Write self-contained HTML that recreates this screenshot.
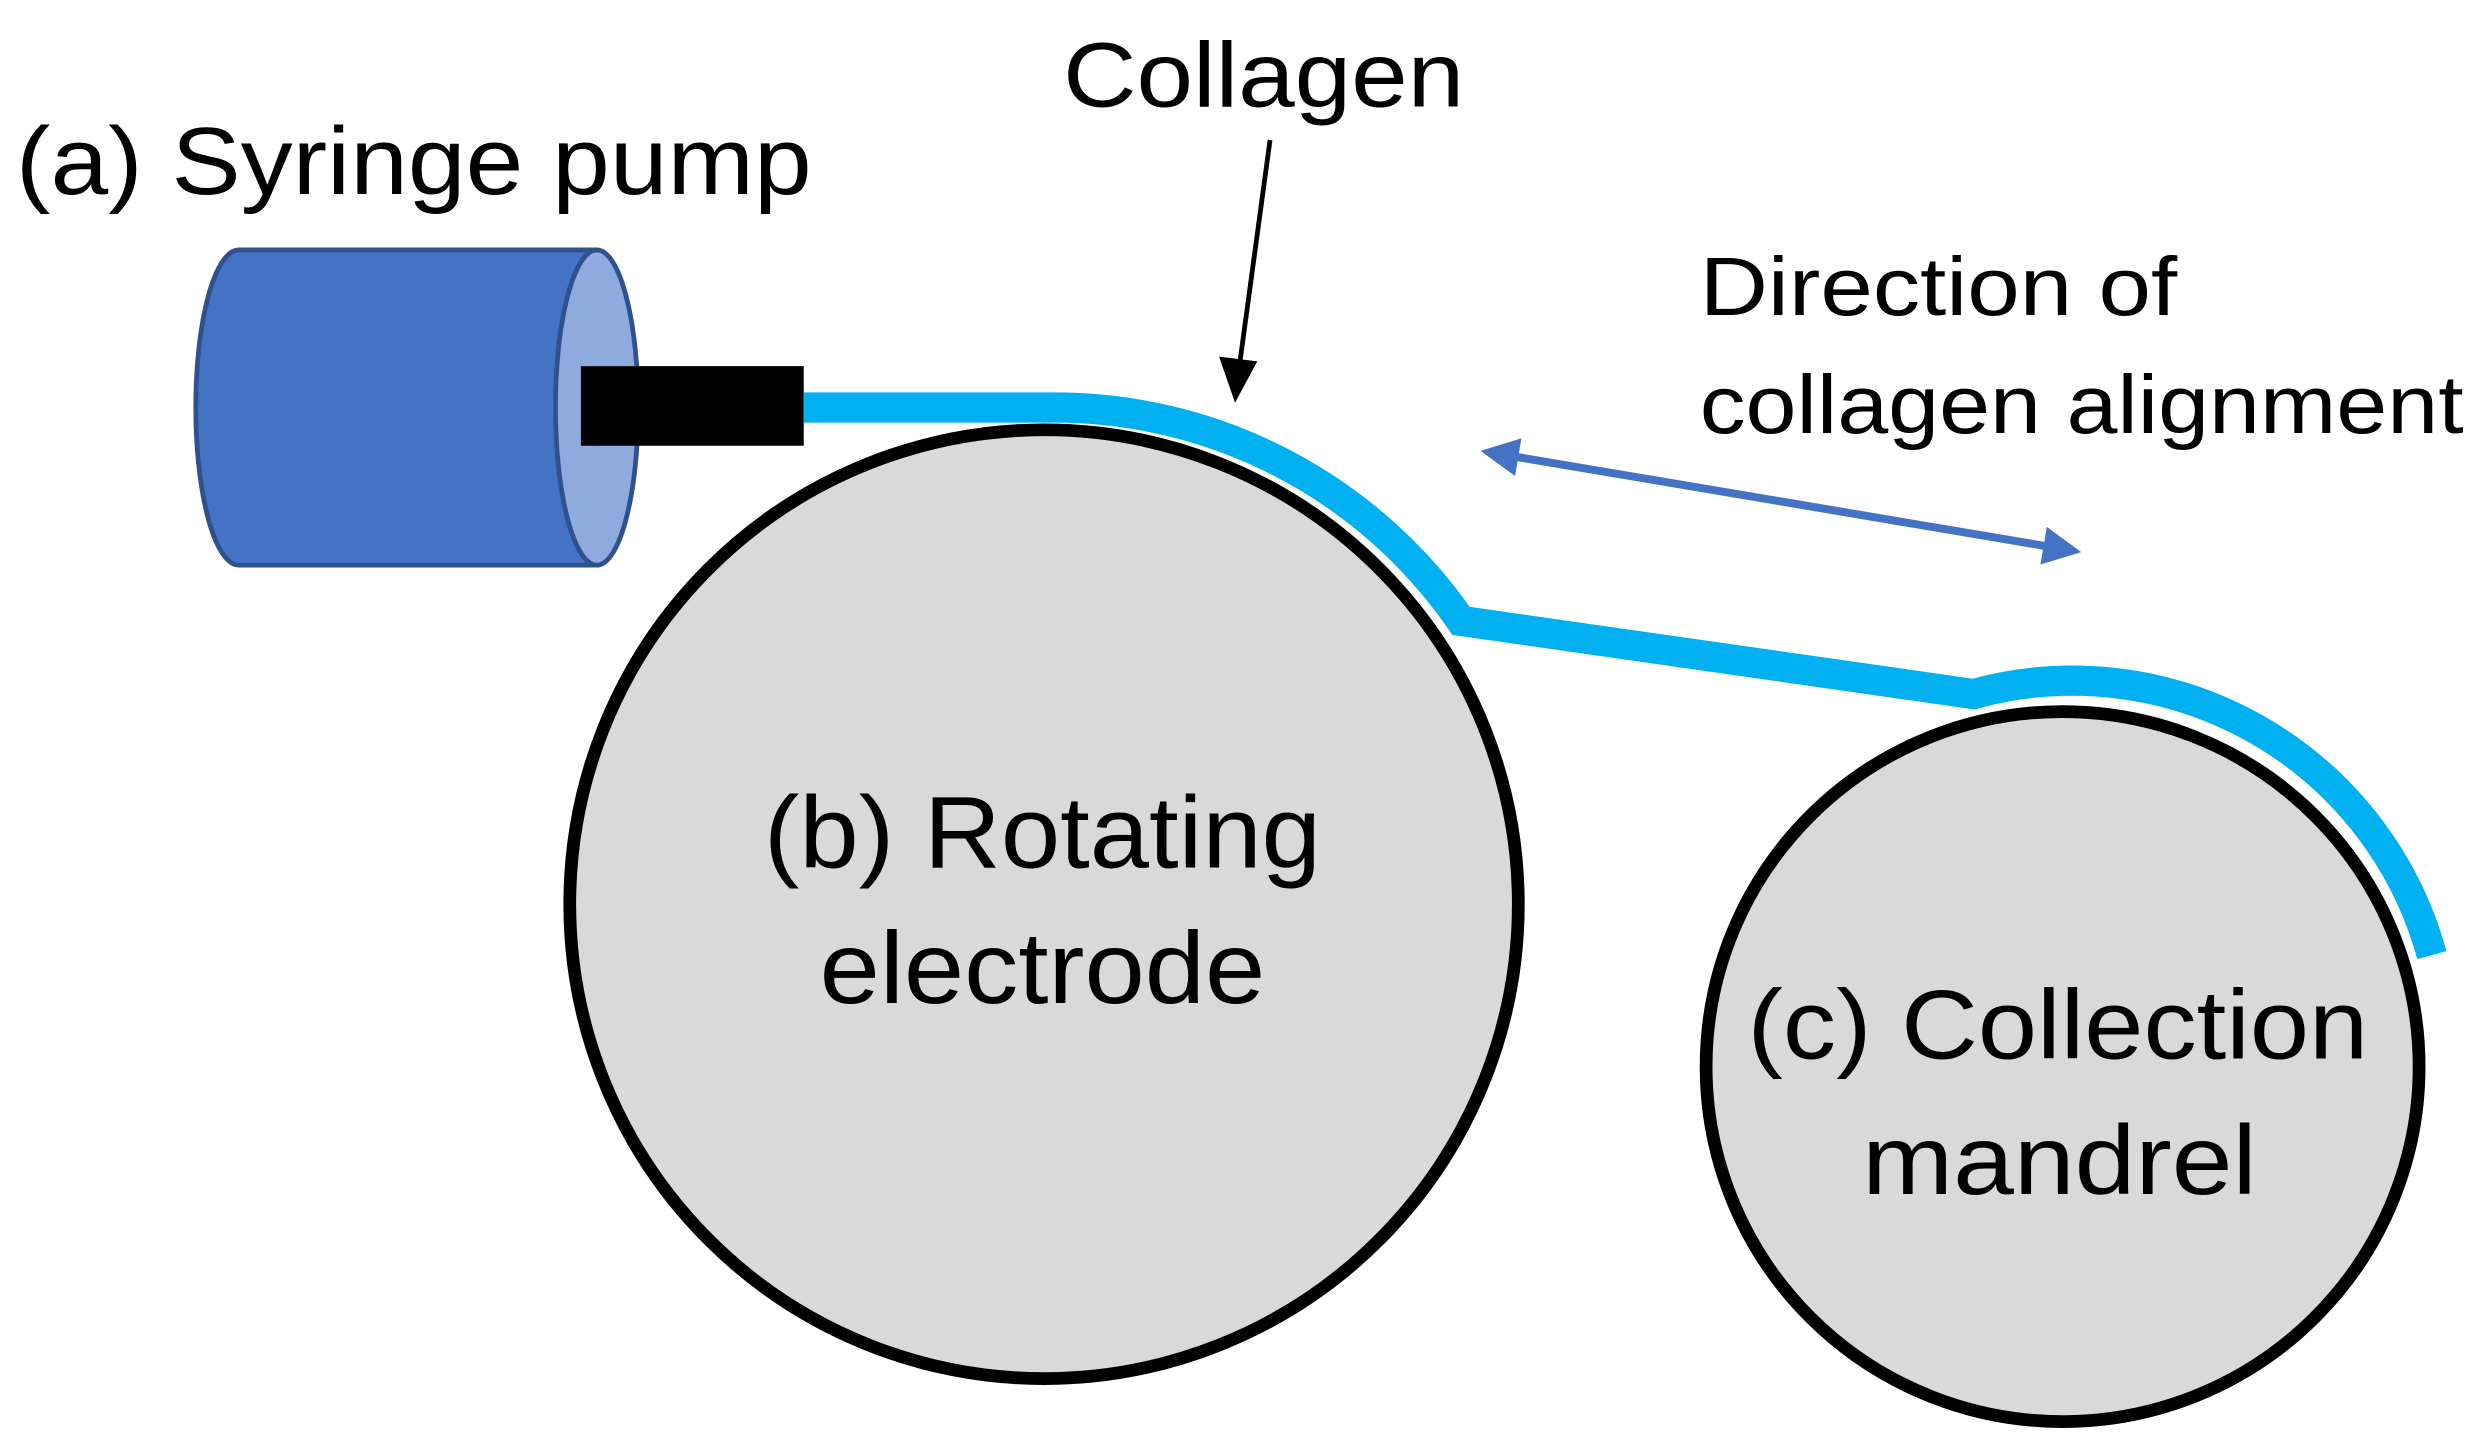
<!DOCTYPE html>
<html><head><style>html,body{margin:0;padding:0;background:#fff;}svg{display:block}</style></head>
<body>
<svg width="2478" height="1455" viewBox="0 0 1557 914" preserveAspectRatio="none" xmlns="http://www.w3.org/2000/svg">
<defs>
<marker id="ah" viewBox="0 0 10 10" refX="8" refY="5" markerWidth="30" markerHeight="24" markerUnits="userSpaceOnUse" orient="auto-start-reverse"><path d="M0,0 L10,5 L0,10 z" fill="#4472c4"/></marker>
</defs>
<g font-family="Liberation Sans, sans-serif" fill="#000">
<text x="10" y="122" font-size="60" textLength="500" lengthAdjust="spacingAndGlyphs">(a) Syringe pump</text>
<text x="668" y="67" font-size="58" textLength="252" lengthAdjust="spacingAndGlyphs">Collagen</text>
<text x="1068" y="198" font-size="52" textLength="300" lengthAdjust="spacingAndGlyphs">Direction of</text>
<text x="1068" y="272" font-size="52" textLength="480" lengthAdjust="spacingAndGlyphs">collagen alignment</text>
</g>
<path d="M150,157 L375,157 L375,355 L150,355 A27,99 0 0 1 150,157 Z" fill="#4472c4" stroke="#2f528f" stroke-width="3"/>
<ellipse cx="375" cy="256" rx="26" ry="99" fill="#8faadc" stroke="#2f528f" stroke-width="3"/>
<rect x="365" y="230" width="140" height="50" fill="#000"/>
<circle cx="656" cy="568" r="298" fill="#d9d9d9" stroke="#000" stroke-width="8"/>
<ellipse cx="1296" cy="670" rx="224" ry="223" fill="#d9d9d9" stroke="#000" stroke-width="8"/>
<path d="M505,256 L660,256 A310,310 0 0 1 918,390 L1240,436 A234,234 0 0 1 1528,600" fill="none" stroke="#00b0f0" stroke-width="19"/>
<line x1="798" y1="88" x2="779" y2="228" stroke="#000" stroke-width="3"/>
<path d="M766,224 L776,253 L790,227 Z" fill="#000"/>
<line x1="935" y1="284" x2="1303" y2="346" stroke="#4472c4" stroke-width="5" marker-start="url(#ah)" marker-end="url(#ah)"/>
<g font-family="Liberation Sans, sans-serif" fill="#000">
<text x="480" y="545" font-size="64" textLength="350" lengthAdjust="spacingAndGlyphs">(b) Rotating</text>
<text x="515" y="630" font-size="64" textLength="280" lengthAdjust="spacingAndGlyphs">electrode</text>
<text x="1098" y="665" font-size="62" textLength="390" lengthAdjust="spacingAndGlyphs">(c) Collection</text>
<text x="1170" y="750" font-size="62" textLength="248" lengthAdjust="spacingAndGlyphs">mandrel</text>
</g>
</svg>
</body></html>
